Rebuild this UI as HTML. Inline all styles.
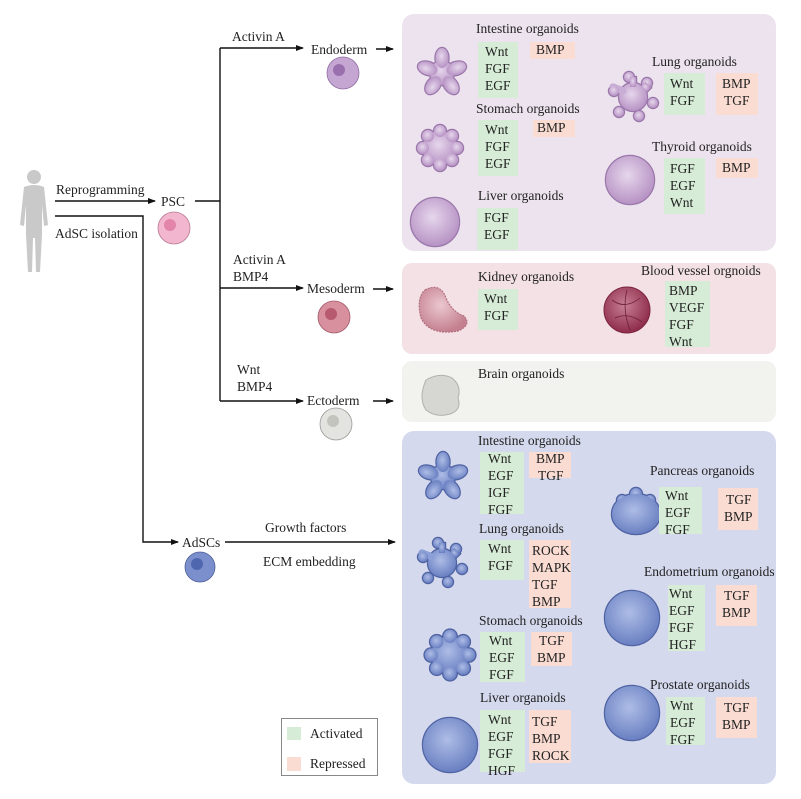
<!DOCTYPE html>
<html><head><meta charset="utf-8"><style>
html,body{margin:0;padding:0;background:#fff}
svg{display:block}
text{font-family:"Liberation Serif",serif;font-size:13.5px;fill:#222}
</style></head><body>
<svg width="801" height="799" viewBox="0 0 801 799" xmlns="http://www.w3.org/2000/svg">
<defs>
<marker id="ah" markerWidth="8" markerHeight="6" refX="7" refY="3" orient="auto" markerUnits="userSpaceOnUse"><path d="M0,0 L8,3 L0,6 z" fill="#111"/></marker>
<radialGradient id="gp" cx="45%" cy="40%" r="60%"><stop offset="0" stop-color="#e6d6ec"/><stop offset="1" stop-color="#b793c4"/></radialGradient>
<radialGradient id="gb" cx="45%" cy="40%" r="60%"><stop offset="0" stop-color="#aebde6"/><stop offset="1" stop-color="#6a80c2"/></radialGradient>
<radialGradient id="gk" cx="45%" cy="40%" r="60%"><stop offset="0" stop-color="#ebc7cf"/><stop offset="1" stop-color="#c4808f"/></radialGradient>
<radialGradient id="gv" cx="45%" cy="40%" r="60%"><stop offset="0" stop-color="#c77f94"/><stop offset="1" stop-color="#8e2c4a"/></radialGradient>
<g id="star"><circle r="12"/><ellipse cx="0" cy="-15" rx="6.5" ry="10"/><ellipse cx="0" cy="-15" rx="6.5" ry="10" transform="rotate(72)"/><ellipse cx="0" cy="-15" rx="6.5" ry="10" transform="rotate(144)"/><ellipse cx="0" cy="-15" rx="6.5" ry="10" transform="rotate(216)"/><ellipse cx="0" cy="-15" rx="6.5" ry="10" transform="rotate(288)"/></g>
<g id="flower"><circle r="17"/><circle cx="0" cy="-17" r="6"/><circle cx="12" cy="-12" r="6"/><circle cx="17" cy="0" r="6"/><circle cx="12" cy="12" r="6"/><circle cx="0" cy="17" r="6"/><circle cx="-12" cy="12" r="6"/><circle cx="-17" cy="0" r="6"/><circle cx="-12" cy="-12" r="6"/></g>
<g id="lung"><circle r="14"/><path d="M-10,-6 L-20,-10" stroke-width="7" stroke-linecap="round"/><circle cx="-19" cy="-6" r="5"/><circle cx="-4" cy="-20" r="5"/><circle cx="14" cy="-14" r="5"/><circle cx="20" cy="6" r="5"/><circle cx="6" cy="19" r="5"/><circle cx="-14" cy="15" r="5"/><rect x="-3" y="-20" width="6" height="10"/><rect x="10" y="-14" width="6" height="8" transform="rotate(-45 13 -10)"/></g>
<g id="panc"><circle cx="0" cy="-18" r="6"/><circle cx="-14" cy="-12" r="5"/><circle cx="14" cy="-12" r="5"/><ellipse cx="0" cy="2" rx="24" ry="20"/></g>
</defs>

<!-- panels -->
<rect x="402" y="14" width="374" height="237" rx="12" fill="#ede3ee"/>
<rect x="402" y="263" width="374" height="91" rx="10" fill="#f3e1e6"/>
<rect x="402" y="361" width="374" height="61" rx="10" fill="#f2f2ef"/>
<rect x="402" y="431" width="374" height="353" rx="12" fill="#d5d9ed"/>

<!-- human -->
<g fill="#c9c9c9">
<circle cx="34" cy="177" r="7"/>
<path d="M24,187 Q34,183 44,187 L48,225 L44,226 L42,205 L42,235 L40,272 L36,272 L35,238 L33,238 L32,272 L28,272 L26,235 L26,205 L24,226 L20,225 Z"/>
</g>

<!-- connectors -->
<g stroke="#111" stroke-width="1.4" fill="none">
<line x1="55" y1="201" x2="155" y2="201" marker-end="url(#ah)"/>
<line x1="195" y1="201" x2="220" y2="201"/>
<line x1="220" y1="48" x2="220" y2="401"/>
<line x1="220" y1="48" x2="303" y2="48" marker-end="url(#ah)"/>
<line x1="220" y1="288" x2="303" y2="288" marker-end="url(#ah)"/>
<line x1="220" y1="401" x2="303" y2="401" marker-end="url(#ah)"/>
<line x1="376" y1="49" x2="393" y2="49" marker-end="url(#ah)"/>
<line x1="373" y1="289" x2="393" y2="289" marker-end="url(#ah)"/>
<line x1="373" y1="401" x2="393" y2="401" marker-end="url(#ah)"/>
<polyline points="55,216 143,216 143,542 178,542" marker-end="url(#ah)"/>
<line x1="225" y1="542" x2="395" y2="542" marker-end="url(#ah)"/>
</g>

<!-- left labels -->
<text x="232" y="41">Activin A</text>
<text x="311" y="54">Endoderm</text>
<text x="56" y="194">Reprogramming</text>
<text x="161" y="206">PSC</text>
<text x="55" y="238">AdSC isolation</text>
<text x="233" y="264">Activin A</text>
<text x="233" y="281">BMP4</text>
<text x="307" y="293">Mesoderm</text>
<text x="237" y="374">Wnt</text>
<text x="237" y="391">BMP4</text>
<text x="307" y="405">Ectoderm</text>
<text x="182" y="547">AdSCs</text>
<text x="265" y="532">Growth factors</text>
<text x="263" y="566">ECM embedding</text>

<!-- cells -->
<circle cx="343" cy="73" r="16" fill="#c5a6d3" stroke="#8f6ea0" stroke-width="0.8"/><circle cx="339" cy="70" r="6" fill="#9a6fae"/>
<circle cx="174" cy="228" r="16" fill="#f2b7cf" stroke="#b97893" stroke-width="0.8"/><circle cx="170" cy="225" r="6" fill="#e384ab"/>
<circle cx="334" cy="317" r="16" fill="#d8909f" stroke="#a05a6a" stroke-width="0.8"/><circle cx="331" cy="314" r="6" fill="#b75a70"/>
<circle cx="336" cy="424" r="16" fill="#e3e3df" stroke="#999" stroke-width="0.8"/><circle cx="333" cy="421" r="6" fill="#c4c4bf"/>
<circle cx="200" cy="567" r="15" fill="#7b8fcc" stroke="#4c5e98" stroke-width="0.8"/><circle cx="197" cy="564" r="6" fill="#4f67ae"/>

<!-- endoderm shapes: outline pass then fill pass -->
<g fill="#9a77ab" stroke="#9a77ab" stroke-width="2.4">
<use href="#star" transform="translate(442,73)"/>
<use href="#flower" transform="translate(440,148)"/>
<circle cx="435" cy="222" r="24"/>
<use href="#lung" transform="translate(633,97)"/>
<circle cx="630" cy="180" r="24"/>
</g>
<g fill="url(#gp)" stroke="#c9b0d4" stroke-width="0">
<use href="#star" transform="translate(442,73)"/>
<use href="#flower" transform="translate(440,148)"/>
<circle cx="435" cy="222" r="24"/>
<use href="#lung" transform="translate(633,97)" stroke="#c8aed6"/>
<circle cx="630" cy="180" r="24"/>
</g>

<!-- meso / ecto shapes -->
<path d="M425,290 Q440,282 446,298 Q452,312 464,316 Q472,325 458,331 Q430,336 421,318 Q416,298 425,290 Z" fill="url(#gk)" stroke="#b4707f" stroke-width="1.2" stroke-dasharray="2,1"/>
<circle cx="627" cy="310" r="23" fill="url(#gv)" stroke="#7a2440" stroke-width="1"/>
<path d="M612,300 Q625,310 640,298 M615,318 Q628,312 642,322 M627,290 Q622,310 630,330" stroke="#6e1f39" stroke-width="0.8" fill="none"/>
<path d="M426,380 Q440,372 452,378 Q462,386 458,398 Q462,410 450,414 Q436,418 426,410 Q418,398 426,380 Z" fill="#d6d6d2" stroke="#b0b0ac" stroke-width="1"/>

<!-- adsc shapes -->
<g fill="#4f63a3" stroke="#4f63a3" stroke-width="2.4">
<use href="#star" transform="translate(443,477)"/>
<use href="#lung" transform="translate(442,563)"/>
<use href="#flower" transform="translate(450,655) scale(1.1)"/>
<circle cx="450" cy="745" r="27"/>
<use href="#panc" transform="translate(636,512)"/>
<circle cx="632" cy="618" r="27"/>
<circle cx="632" cy="713" r="27"/>
</g>
<g fill="url(#gb)" stroke-width="0">
<use href="#star" transform="translate(443,477)"/>
<use href="#lung" transform="translate(442,563)" stroke="#8c9fd6"/>
<use href="#flower" transform="translate(450,655) scale(1.1)"/>
<circle cx="450" cy="745" r="27"/>
<use href="#panc" transform="translate(636,512)"/>
<circle cx="632" cy="618" r="27"/>
<circle cx="632" cy="713" r="27"/>
</g>

<!-- factor boxes -->
<g>
<rect x="478" y="42" width="40" height="56" fill="#d6ecd7"/><rect x="530" y="42" width="45" height="17" fill="#fadcd2"/>
<rect x="478" y="120" width="40" height="56" fill="#d6ecd7"/><rect x="533" y="120" width="42" height="17" fill="#fadcd2"/>
<rect x="477" y="208" width="41" height="42" fill="#d6ecd7"/>
<rect x="664" y="73" width="41" height="42" fill="#d6ecd7"/><rect x="716" y="73" width="42" height="42" fill="#fadcd2"/>
<rect x="664" y="158" width="41" height="56" fill="#d6ecd7"/><rect x="716" y="158" width="42" height="20" fill="#fadcd2"/>
<rect x="478" y="289" width="40" height="41" fill="#d6ecd7"/>
<rect x="665" y="281" width="45" height="66" fill="#d6ecd7"/>
<rect x="480" y="452" width="44" height="62" fill="#d6ecd7"/><rect x="529" y="452" width="42" height="26" fill="#fadcd2"/>
<rect x="480" y="540" width="44" height="40" fill="#d6ecd7"/><rect x="529" y="540" width="42" height="68" fill="#fadcd2"/>
<rect x="480" y="632" width="45" height="50" fill="#d6ecd7"/><rect x="531" y="632" width="41" height="34" fill="#fadcd2"/>
<rect x="480" y="710" width="45" height="62" fill="#d6ecd7"/><rect x="529" y="710" width="42" height="53" fill="#fadcd2"/>
<rect x="659" y="487" width="43" height="47" fill="#d6ecd7"/><rect x="718" y="488" width="40" height="42" fill="#fadcd2"/>
<rect x="668" y="585" width="37" height="66" fill="#d6ecd7"/><rect x="716" y="585" width="41" height="41" fill="#fadcd2"/>
<rect x="666" y="697" width="39" height="48" fill="#d6ecd7"/><rect x="716" y="697" width="41" height="41" fill="#fadcd2"/>
</g>

<!-- titles -->
<text x="476" y="33">Intestine organoids</text>
<text x="476" y="113">Stomach organoids</text>
<text x="478" y="200">Liver organoids</text>
<text x="652" y="66">Lung organoids</text>
<text x="652" y="151">Thyroid organoids</text>
<text x="478" y="281">Kidney organoids</text>
<text x="641" y="275">Blood vessel orgnoids</text>
<text x="478" y="378">Brain organoids</text>
<text x="478" y="445">Intestine organoids</text>
<text x="479" y="533">Lung organoids</text>
<text x="479" y="625">Stomach organoids</text>
<text x="480" y="702">Liver organoids</text>
<text x="650" y="475">Pancreas organoids</text>
<text x="644" y="576">Endometrium organoids</text>
<text x="650" y="689">Prostate organoids</text>

<!-- factor text -->
<text x="485" y="56">Wnt</text><text x="485" y="73">FGF</text><text x="485" y="90">EGF</text><text x="536" y="54">BMP</text>
<text x="485" y="134">Wnt</text><text x="485" y="151">FGF</text><text x="485" y="168">EGF</text><text x="537" y="132">BMP</text>
<text x="484" y="222">FGF</text><text x="484" y="239">EGF</text>
<text x="670" y="88">Wnt</text><text x="670" y="105">FGF</text><text x="722" y="88">BMP</text><text x="724" y="105">TGF</text>
<text x="670" y="173">FGF</text><text x="670" y="190">EGF</text><text x="670" y="207">Wnt</text><text x="722" y="172">BMP</text>
<text x="484" y="303">Wnt</text><text x="484" y="320">FGF</text>
<text x="669" y="295">BMP</text><text x="669" y="312">VEGF</text><text x="669" y="329">FGF</text><text x="669" y="346">Wnt</text>
<text x="488" y="463">Wnt</text><text x="488" y="480">EGF</text><text x="488" y="497">IGF</text><text x="488" y="514">FGF</text>
<text x="536" y="463">BMP</text><text x="538" y="480">TGF</text>
<text x="488" y="553">Wnt</text><text x="488" y="570">FGF</text>
<text x="532" y="555">ROCK</text><text x="532" y="572">MAPK</text><text x="532" y="589">TGF</text><text x="532" y="606">BMP</text>
<text x="489" y="645">Wnt</text><text x="489" y="662">EGF</text><text x="489" y="679">FGF</text>
<text x="539" y="645">TGF</text><text x="537" y="662">BMP</text>
<text x="488" y="724">Wnt</text><text x="488" y="741">EGF</text><text x="488" y="758">FGF</text><text x="488" y="775">HGF</text>
<text x="532" y="726">TGF</text><text x="532" y="743">BMP</text><text x="532" y="760">ROCK</text>
<text x="665" y="500">Wnt</text><text x="665" y="517">EGF</text><text x="665" y="534">FGF</text>
<text x="726" y="504">TGF</text><text x="724" y="521">BMP</text>
<text x="669" y="598">Wnt</text><text x="669" y="615">EGF</text><text x="669" y="632">FGF</text><text x="669" y="649">HGF</text>
<text x="724" y="600">TGF</text><text x="722" y="617">BMP</text>
<text x="670" y="710">Wnt</text><text x="670" y="727">EGF</text><text x="670" y="744">FGF</text>
<text x="724" y="712">TGF</text><text x="722" y="729">BMP</text>

<!-- legend -->
<rect x="281.5" y="718.5" width="96" height="57" fill="#fff" stroke="#888" stroke-width="1"/>
<rect x="287" y="727" width="14" height="13" fill="#d6ecd7"/>
<rect x="287" y="757" width="14" height="14" fill="#fadcd2"/>
<text x="310" y="738">Activated</text>
<text x="310" y="768">Repressed</text>
</svg>
</body></html>
